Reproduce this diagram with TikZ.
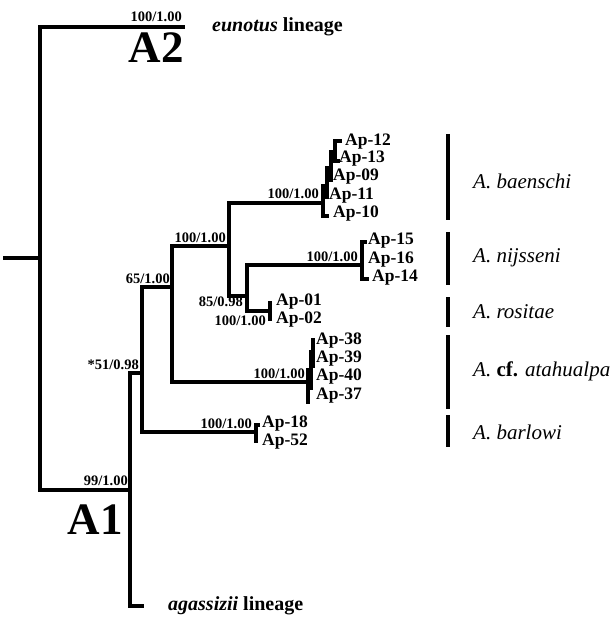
\documentclass[tikz,border=0pt]{standalone}
\usepackage{fontspec}
\setmainfont{Liberation Serif}
\begin{document}
\begin{tikzpicture}[x=1pt,y=-1pt,
  br/.style={line width=3.6pt, line cap=rect, line join=miter},
  comb/.style={line width=3.4pt, line cap=rect, line join=miter},
  sup/.style={font=\fontsize{14.5}{14.5}\selectfont\bfseries, inner sep=0pt, anchor=base east},
  tip/.style={font=\fontsize{17.5}{17.5}\selectfont\bfseries, anchor=west, inner sep=0pt},
  sp/.style={font=\fontsize{21}{21}\selectfont\itshape, anchor=west, inner sep=0pt},
  clade/.style={font=\fontsize{45}{45}\selectfont\bfseries, inner sep=0pt, anchor=base east},
  lin/.style={font=\fontsize{20}{20}\selectfont\bfseries, anchor=west, inner sep=0pt},
  bar/.style={line width=4pt}]
\useasboundingbox[fill=white] (0,0) rectangle (613,617);

% internal nodes and branch ends
\coordinate (root) at (5,258);
\coordinate (nA) at (40,258);
\coordinate (tA2) at (183,27);
\coordinate (nA1) at (130,490);
\coordinate (tAga) at (142,606);
\coordinate (n51) at (142,373);
\coordinate (n65) at (172,287);
\coordinate (tBar) at (256,432);
\coordinate (n100) at (229,246);
\coordinate (tAta) at (308,382);
\coordinate (tBae) at (323,203);
\coordinate (n85) at (247,296);
\coordinate (tNij) at (362,265);
\coordinate (tRos) at (270,311);

% backbone
\draw[br] (root) -- (nA);
\draw[br] (tA2) -| (nA) |- (nA1);
\draw[br] (n51) -| (nA1) |- (tAga);
\draw[br] (n65) -| (n51) |- (tBar);
\draw[br] (n100) -| (n65) |- (tAta);
\draw[br] (tBae) -| (n100) |- (n85);
\draw[br] (tNij) -| (n85) |- (tRos);

% terminal combs
\draw[comb] (323,186) -- (323,216) -- (327,216);
\draw[comb] (323,186) -- (327,186);
\draw[comb] (327,168) -- (327,197);
\draw[comb] (327,168) -- (331,168);
\draw[comb] (331,152) -- (331,180);
\draw[comb] (331,152) -- (335,152);
\draw[comb] (340,141) -- (335,141) -- (335,161) -- (338,161);

\draw[comb] (365,242) -- (362,242) -- (362,279) -- (367,279);
\draw[comb] (270,303) -- (270,319);
\draw[comb] (308,370) -- (308,402);
\draw[comb] (308,370) -- (311,370);
\draw[comb] (311,352) -- (311,388);
\draw[comb] (311,352) -- (313,352);
\draw[comb] (313,340) -- (313,366);
\draw[comb] (258,425) -- (256,425) -- (256,441);

% support values
\node[sup] (sA2) at (182,22) {100/1.00};
\node[sup] (sA1) at (128,485) {99/1.00};
\node[sup] (s51) at (139,369) {*51/0.98};
\node[sup] (s65) at (170,283) {65/1.00};
\node[sup] (s100) at (226,242) {100/1.00};
\node[sup] (sBae) at (319,199) {100/1.00};
\node[sup] (s85) at (243,306) {85/0.98};
\node[sup] (sNij) at (358,261) {100/1.00};
\node[sup] (sRos) at (266,325) {100/1.00};
\node[sup] (sAta) at (305,378) {100/1.00};
\node[sup] (sBar) at (252,428) {100/1.00};

% clade names and lineages
\node[clade] (cA2) at (184,63) {A2};
\node[clade] (cA1) at (123,534) {A1};
\node[lin] (lEun) at (212,27) {\itshape eunotus\upshape\ lineage};
\node[lin] (lAga) at (168,606) {\itshape agassizii\upshape\ lineage};

% terminal labels
\node[tip] (ap12) at (345,142) {Ap-12};
\node[tip] (ap13) at (339,159) {Ap-13};
\node[tip] (ap09) at (333,177) {Ap-09};
\node[tip] (ap11) at (329,196) {Ap-11};
\node[tip] (ap10) at (333,214) {Ap-10};
\node[tip] (ap15) at (368,241) {Ap-15};
\node[tip] (ap16) at (368,260) {Ap-16};
\node[tip] (ap14) at (372,278) {Ap-14};
\node[tip] (ap01) at (276,302) {Ap-01};
\node[tip] (ap02) at (276,320) {Ap-02};
\node[tip] (ap38) at (316,341) {Ap-38};
\node[tip] (ap39) at (316,359) {Ap-39};
\node[tip] (ap40) at (316,377) {Ap-40};
\node[tip] (ap37) at (316,396) {Ap-37};
\node[tip] (ap18) at (262,424) {Ap-18};
\node[tip] (ap52) at (262,442) {Ap-52};

% species bars
\draw[bar] (448,134) -- (448,220);
\draw[bar] (448,232) -- (448,285);
\draw[bar] (448,297) -- (448,327);
\draw[bar] (448,335) -- (448,409);
\draw[bar] (448,415) -- (448,447);
\node[sp] (spBae) at (473,181) {A. baenschi};
\node[sp] (spNij) at (473,258) {A. nijsseni};
\node[sp] (spRos) at (473,312) {A. rositae};
\node[sp] (spAta) at (473,371) {A. {\upshape\bfseries cf.} atahualpa};
\node[sp] (spBar) at (473,432) {A. barlowi};
\end{tikzpicture}
\end{document}
